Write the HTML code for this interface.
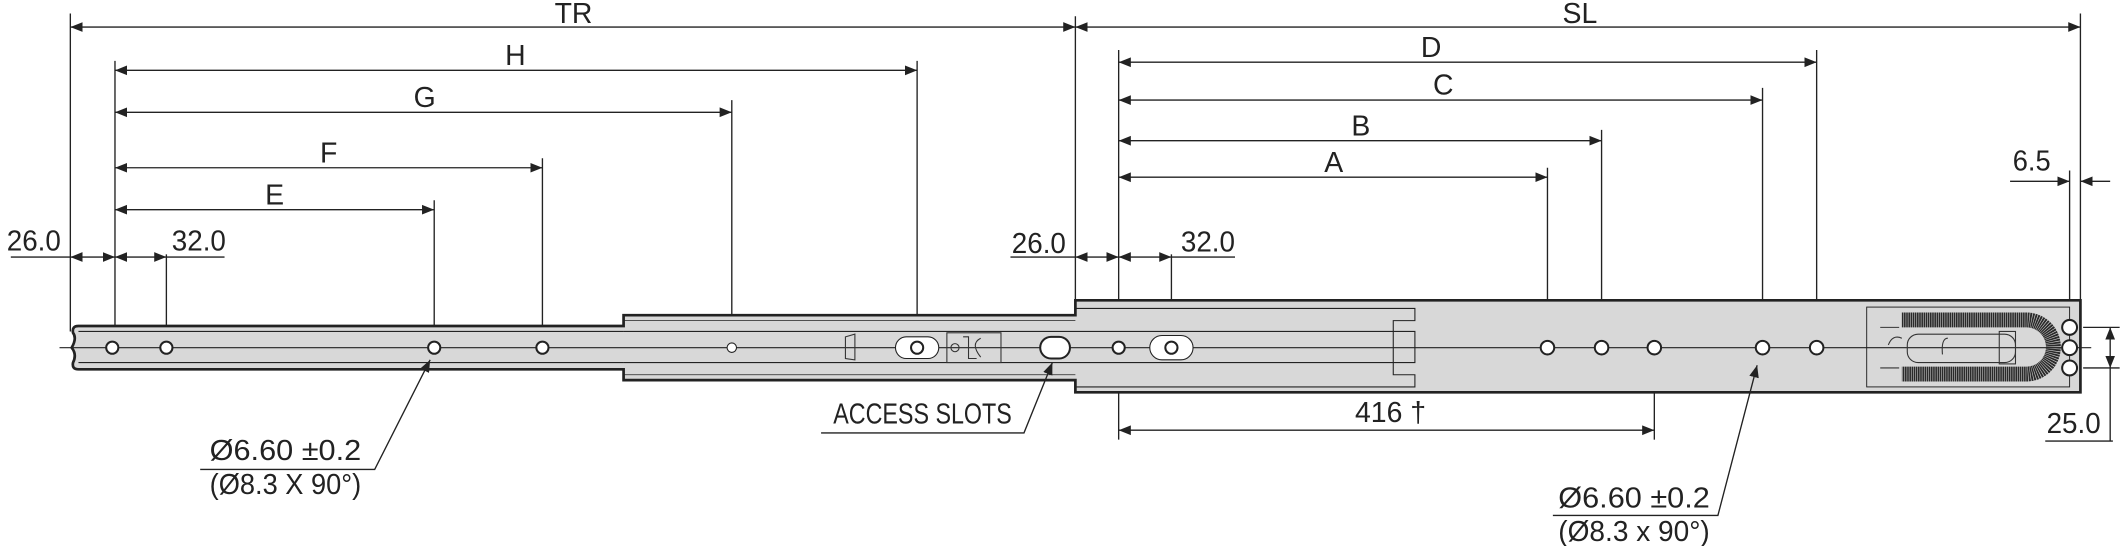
<!DOCTYPE html>
<html><head><meta charset="utf-8"><style>
html,body{margin:0;padding:0;background:#fff;}
svg{display:block;}
text{font-family:"Liberation Sans Narrow","Liberation Sans",sans-serif;fill:#222;font-size:21px;text-anchor:middle;}
</style></head><body>
<svg width="2121" height="546" viewBox="0 0 1568 403.6" preserveAspectRatio="none" xmlns="http://www.w3.org/2000/svg">
<defs>
<marker id="a" viewBox="0 0 10 10" refX="10" refY="5" markerWidth="9" markerHeight="9" markerUnits="userSpaceOnUse" orient="auto-start-reverse"><path d="M0,1 L10,5 L0,9 z" fill="#222"/></marker>
</defs>
<g stroke="#222" stroke-width="1" fill="none">
<line x1="52" y1="10" x2="52" y2="245"/>
<line x1="795" y1="12" x2="795" y2="222"/>
<line x1="1538" y1="10" x2="1538" y2="222"/>
<line x1="85" y1="45" x2="85" y2="265"/>
<line x1="123" y1="188" x2="123" y2="265"/>
<line x1="321" y1="148" x2="321" y2="265"/>
<line x1="401" y1="117" x2="401" y2="265"/>
<line x1="541" y1="74" x2="541" y2="265"/>
<line x1="678" y1="45" x2="678" y2="265"/>
<line x1="827" y1="37" x2="827" y2="325"/>
<line x1="866" y1="188" x2="866" y2="265"/>
<line x1="1144" y1="124" x2="1144" y2="245"/>
<line x1="1184" y1="96" x2="1184" y2="245"/>
<line x1="1303" y1="65" x2="1303" y2="245"/>
<line x1="1343" y1="37" x2="1343" y2="245"/>
<line x1="1223" y1="262" x2="1223" y2="325"/>
<line x1="1530" y1="126" x2="1530" y2="222"/>
</g>
<g stroke="#222" fill="#d8d8d8">
<path d="M58,241 L461,241 L461,233 L795,233 L795,222 L1538,222 L1538,290 L795,290 L795,281 L461,281 L461,273 L58,273 Q53,273 54,268 Q57,262 53,257 Q57,250 54,246 Q53,241 58,241 z" stroke-width="2"/>
<path d="M461,245 L1046,245 L1046,268 L461,268" fill="none" stroke-width="0.8"/>
<path d="M795,228 L1046,228 L1046,237 L1030,237 L1030,277 L1046,277 L1046,286 L795,286" fill="none" stroke-width="0.8"/>
<path d="M58,245 L461,245 M58,268 L461,268" stroke-width="0.8"/>
<path d="M461,237 L795,237 M461,277 L795,277" stroke-width="0.6" fill="none"/>
<rect x="1380" y="227" width="150" height="59" fill="none" stroke-width="0.7"/>
</g>
<line x1="44" y1="257" x2="1546" y2="257" stroke="#222" stroke-width="0.8"/>
<path d="M1406,236.5 L1498,236.5 A20,20 0 0 1 1498,276.5 L1406,276.5" fill="none" stroke="#2a2a2a" stroke-width="11" stroke-dasharray="1.2 0.4"/>
<g fill="none" stroke="#333" stroke-width="0.8">
<rect x="1410" y="247" width="80" height="21" rx="8"/>
<path d="M1396,255 q3,-8 10,-5 M1440,250 q-5,0 -4,12 M1390,242 L1404,242 M1390,272 L1404,272"/>
<rect x="1478" y="245" width="12" height="24"/>
</g>
<g fill="#fff" stroke="#222" stroke-width="1.5">
<circle cx="83" cy="257" r="4.5"/><circle cx="123" cy="257" r="4.5"/><circle cx="321" cy="257" r="4.5"/><circle cx="401" cy="257" r="4.5"/><circle cx="541" cy="257" r="3.5" stroke-width="0.8"/>
<rect x="662" y="249" width="32" height="16" rx="8" stroke-width="0.8"/><circle cx="678" cy="257" r="4.5"/>
<rect x="850" y="248" width="32" height="18" rx="9" stroke-width="0.8"/><circle cx="866" cy="257" r="4.5"/>
<circle cx="827" cy="257" r="4.5"/>
<circle cx="1144" cy="257" r="5"/><circle cx="1184" cy="257" r="5"/><circle cx="1223" cy="257" r="5"/><circle cx="1303" cy="257" r="5"/><circle cx="1343" cy="257" r="5"/>
<circle cx="1530" cy="242" r="5.5"/><circle cx="1530" cy="257" r="5.5"/><circle cx="1530" cy="272" r="5.5"/>
<rect x="769" y="249" width="22" height="16" rx="8" stroke-width="1.5"/>
</g>
<g fill="none" stroke="#333" stroke-width="0.8">
<path d="M625,249 L632,247 L632,266 L625,265 z"/>
<rect x="700" y="246" width="40" height="22"/>
<path d="M712,249 L716,249 L716,265 L722,265 M725,250 q-8,4 0,14"/>
<circle cx="706" cy="257" r="3"/>
</g>
<g stroke="#222" stroke-width="1" fill="none" marker-start="url(#a)" marker-end="url(#a)">
<line x1="52" y1="20" x2="795" y2="20"/>
<line x1="795" y1="20" x2="1538" y2="20"/>
<line x1="85" y1="52" x2="678" y2="52"/>
<line x1="85" y1="83" x2="541" y2="83"/>
<line x1="85" y1="124" x2="401" y2="124"/>
<line x1="85" y1="155" x2="321" y2="155"/>
<line x1="827" y1="46" x2="1343" y2="46"/>
<line x1="827" y1="74" x2="1303" y2="74"/>
<line x1="827" y1="104" x2="1184" y2="104"/>
<line x1="827" y1="131" x2="1144" y2="131"/>
<line x1="52" y1="190" x2="85" y2="190"/>
<line x1="85" y1="190" x2="123" y2="190"/>
<line x1="795" y1="190" x2="827" y2="190"/>
<line x1="827" y1="190" x2="866" y2="190"/>
<line x1="827" y1="318" x2="1223" y2="318"/>
<line x1="1560" y1="242" x2="1560" y2="272"/>
</g>
<g stroke="#222" stroke-width="1" fill="none">
<line x1="8" y1="190" x2="52" y2="190"/><line x1="123" y1="190" x2="166" y2="190"/>
<line x1="747" y1="190" x2="795" y2="190"/><line x1="866" y1="190" x2="913" y2="190"/>
<line x1="1486" y1="134" x2="1530" y2="134" marker-end="url(#a)"/>
<line x1="1560" y1="134" x2="1538" y2="134" marker-end="url(#a)"/>
<line x1="1540" y1="242" x2="1567" y2="242"/><line x1="1540" y1="272" x2="1567" y2="272"/>
<line x1="1560" y1="272" x2="1560" y2="326"/><line x1="1512" y1="326" x2="1562" y2="326"/>
<polyline points="148,347 277,347 318,266" marker-end="url(#a)"/>
<polyline points="607,320 757,320 778,268" marker-end="url(#a)"/>
<polyline points="1148,381 1270,381 1299,270" marker-end="url(#a)"/>
</g>
<text x="424" y="17">TR</text>
<text x="1168" y="17">SL</text>
<text x="381" y="48">H</text>
<text x="314" y="79">G</text>
<text x="243" y="120">F</text>
<text x="203" y="151">E</text>
<text x="1058" y="42">D</text>
<text x="1067" y="70">C</text>
<text x="1006" y="100">B</text>
<text x="986" y="127">A</text>
<text x="25" y="185" textLength="40" lengthAdjust="spacingAndGlyphs">26.0</text>
<text x="147" y="185" textLength="40" lengthAdjust="spacingAndGlyphs">32.0</text>
<text x="768" y="187" textLength="40" lengthAdjust="spacingAndGlyphs">26.0</text>
<text x="893" y="186" textLength="40" lengthAdjust="spacingAndGlyphs">32.0</text>
<text x="1502" y="126" textLength="28" lengthAdjust="spacingAndGlyphs">6.5</text>
<text x="1533" y="320" textLength="40" lengthAdjust="spacingAndGlyphs">25.0</text>
<text x="1028" y="312">416 †</text>
<text x="682" y="313" textLength="132" lengthAdjust="spacingAndGlyphs">ACCESS SLOTS</text>
<text x="211" y="340" textLength="112" lengthAdjust="spacingAndGlyphs">Ø6.60 ±0.2</text>
<text x="211" y="365" textLength="112" lengthAdjust="spacingAndGlyphs">(Ø8.3 X 90°)</text>
<text x="1208" y="375" textLength="112" lengthAdjust="spacingAndGlyphs">Ø6.60 ±0.2</text>
<text x="1208" y="400" textLength="112" lengthAdjust="spacingAndGlyphs">(Ø8.3 x 90°)</text>
</svg>
</body></html>
